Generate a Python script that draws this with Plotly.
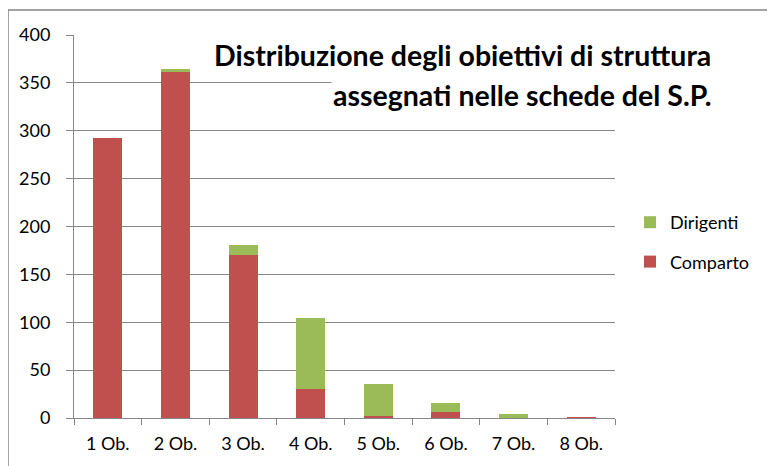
import plotly.graph_objects as go

categories = ["1 Ob.", "2 Ob.", "3 Ob.", "4 Ob.", "5 Ob.", "6 Ob.", "7 Ob.", "8 Ob."]
comparto = [292, 362, 170, 30, 2, 6, 0, 1]
dirigenti = [0, 2, 11, 74, 34, 10, 4, 0]
y_ticks = [0, 50, 100, 150, 200, 250, 300, 350, 400]

FONT = "Lato, Open Sans, sans-serif"
GRAY = "#868686"

# the page body adds an 8px offset to the figure
W, H = 775, 466
L, R, T, B = 66, 168, 27, 56
OFF = 8
plot_w = W - L - R
plot_h = H - T - B

def px_x(x):
    return (x - OFF - L) / plot_w

def px_y(y):
    return (H - B - (y - OFF)) / plot_h

fig = go.Figure()
fig.add_trace(go.Bar(x=categories, y=comparto, name="Comparto", legendrank=2, legendgroup="b",
                     marker=dict(color="#C0504D", line=dict(width=0))))
fig.add_trace(go.Bar(x=categories, y=dirigenti, name="Dirigenti", legendrank=1, legendgroup="a",
                     marker=dict(color="#9BBB59", line=dict(width=0))))

fig.update_layout(
    barmode="stack",
    bargap=0.57,
    width=W, height=H,
    margin=dict(l=L, r=R, t=T, b=B),
    plot_bgcolor="white", paper_bgcolor="white",
    font=dict(family=FONT, size=18, color="black"),
    showlegend=True,
    legend=dict(traceorder="grouped", x=px_x(630), y=px_y(242), xanchor="left", yanchor="middle",
                font=dict(family=FONT, size=18), itemwidth=30, tracegroupgap=13),
    xaxis=dict(showline=True, linecolor=GRAY, linewidth=1, ticks="outside", ticklen=6,
               tickcolor=GRAY, showgrid=False, tickson="boundaries", ticklabelstandoff=9,
               tickfont=dict(family=FONT, size=18)),
    yaxis=dict(range=[0, 400], tickvals=y_ticks, showline=True, linecolor=GRAY, linewidth=1,
               ticks="outside", ticklen=7, tickcolor=GRAY, showgrid=True, gridcolor=GRAY,
               gridwidth=1, zeroline=False, ticklabelstandoff=12, tickfont=dict(family=FONT, size=18)),
    annotations=[
        dict(text="<b>Distribuzione degli obiettivi di struttura</b>",
             x=px_x(713), y=px_y(55), xref="paper", yref="paper", showarrow=False,
             xanchor="right", yanchor="middle", align="right", bgcolor="white",
             font=dict(family=FONT, size=28.5, color="black")),
        dict(text="<b>assegnati nelle schede del S.P.</b>",
             x=px_x(713), y=px_y(95), xref="paper", yref="paper", showarrow=False,
             xanchor="right", yanchor="middle", align="right", bgcolor="white",
             font=dict(family=FONT, size=28.5, color="black")),
    ],
    shapes=[dict(type="rect", xref="paper", yref="paper", x0=px_x(8), x1=1.6, y0=-0.3, y1=px_y(10),
                 line=dict(color=GRAY, width=1.5), layer="below")],
)

fig.write_html("out.html")
